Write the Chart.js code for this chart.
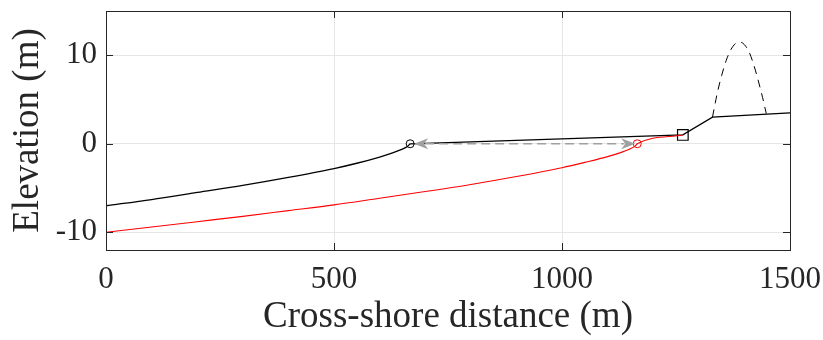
<!DOCTYPE html>
<html lang="en">
<head>
    <meta charset="UTF-8">
    <title>Cross-shore profile</title>
    <script src="https://cdn.jsdelivr.net/npm/chart.js"></script>
    <style>
        body { margin: 0; background: #ffffff; }
        .chart-box { width: 823px; height: 340px; }
    </style>
</head>
<body>
    <div class="chart-box"><canvas id="profileChart"></canvas></div>

    <script>
        // Initial profile (black), from offshore to the shoreline
        const initX = [0, 100, 200, 300, 400, 500, 550, 600, 630, 650, 660, 667];
        const initY = [-7.0, -6.3, -5.5, -4.7, -3.8, -2.8, -2.2, -1.5, -1.0, -0.6, -0.34, 0];

        // Shifted profile (red)
        const shiftX = [0, 100, 200, 300, 400, 500, 600, 700, 800, 900, 1000, 1050, 1100, 1130, 1150, 1160, 1165, 1265];
        const shiftY = [-10.0, -9.4, -8.8, -8.2, -7.55, -6.9, -6.15, -5.4, -4.6, -3.7, -2.7, -2.1, -1.45, -0.97, -0.55, -0.27, 0, 1.0];

        // Beach and back-beach (black, common to both)
        const beachX = [667, 1265, 1330, 1500];
        const beachY = [0, 1.0, 3.0, 3.5];

        // Dune crest (dashed)
        const duneX = [1330, 1340, 1350, 1360, 1370, 1380, 1390, 1400, 1410, 1420, 1430, 1440, 1448];
        const duneY = [3.0, 5.6, 7.7, 9.4, 10.6, 11.3, 11.5, 11.2, 10.4, 9.0, 7.2, 5.2, 3.4];

        // Shoreline markers and the berm point
        const shoreInit = [667, 0];
        const shoreShift = [1165, 0];
        const bermPoint = [1265, 1.0];

        const xTicks = [0, 500, 1000, 1500];
        const yTicks = [-10, 0, 10];

        const ink = '#262626';
        const serif = '"Liberation Serif", "DejaVu Serif", serif';

        const pts = (xs, ys) => xs.map((x, i) => ({ x: x, y: ys[i] }));

        // box around the axes with inward ticks on all four sides
        const boxPlugin = {
            id: 'boxPlugin',
            afterDatasetsDraw(chart) {
                const { ctx, chartArea: a, scales } = chart;
                ctx.save();
                ctx.strokeStyle = ink;
                ctx.lineWidth = 1;
                const len = 7;
                ctx.beginPath();
                xTicks.forEach(v => {
                    const px = Math.round(scales.x.getPixelForValue(v)) + 0.5;
                    ctx.moveTo(px, a.bottom); ctx.lineTo(px, a.bottom - len);
                    ctx.moveTo(px, a.top); ctx.lineTo(px, a.top + len);
                });
                yTicks.forEach(v => {
                    const py = Math.round(scales.y.getPixelForValue(v)) + 0.5;
                    ctx.moveTo(a.left, py); ctx.lineTo(a.left + len, py);
                    ctx.moveTo(a.right, py); ctx.lineTo(a.right - len, py);
                });
                ctx.stroke();
                ctx.strokeRect(Math.round(a.left) + 0.5, Math.round(a.top) + 0.5,
                    Math.round(a.right - a.left), Math.round(a.bottom - a.top));
                ctx.restore();
            }
        };

        // dashed double arrow between the two shorelines
        const arrowPlugin = {
            id: 'arrowPlugin',
            afterDatasetsDraw(chart) {
                const { ctx, scales } = chart;
                const x1 = scales.x.getPixelForValue(shoreShift[0]) - 2;
                const x0 = scales.x.getPixelForValue(shoreInit[0]) + 4;
                const y = scales.y.getPixelForValue(0);
                const head = 14, half = 5.5;
                ctx.save();
                ctx.strokeStyle = '#a0a0a0';
                ctx.fillStyle = '#a0a0a0';
                ctx.lineWidth = 1.6;
                ctx.setLineDash([9, 5]);
                ctx.beginPath();
                ctx.moveTo(x0 + head - 3, y);
                ctx.lineTo(x1 - head + 3, y);
                ctx.stroke();
                ctx.setLineDash([]);
                [[x0, 1], [x1, -1]].forEach(([tip, d]) => {
                    ctx.beginPath();
                    ctx.moveTo(tip, y);
                    ctx.lineTo(tip + d * head, y - half);
                    ctx.lineTo(tip + d * (head - 4), y);
                    ctx.lineTo(tip + d * head, y + half);
                    ctx.closePath();
                    ctx.fill();
                });
                ctx.restore();
            }
        };

        const ctx = document.getElementById('profileChart').getContext('2d');
        const profileChart = new Chart(ctx, {
            type: 'scatter',
            data: {
                datasets: [
                    {
                        data: pts(shiftX, shiftY), showLine: true, borderColor: '#ff0000',
                        borderWidth: 1.1, pointRadius: 0, cubicInterpolationMode: 'monotone'
                    },
                    {
                        data: pts(initX, initY), showLine: true, borderColor: '#000000',
                        borderWidth: 1.3, pointRadius: 0, cubicInterpolationMode: 'monotone'
                    },
                    {
                        data: pts(beachX, beachY), showLine: true, borderColor: '#000000',
                        borderWidth: 1.3, pointRadius: 0
                    },
                    {
                        data: pts(duneX, duneY), showLine: true, borderColor: '#000000',
                        borderWidth: 1, borderDash: [8, 6], pointRadius: 0,
                        cubicInterpolationMode: 'monotone'
                    },
                    {
                        data: [{ x: shoreInit[0], y: shoreInit[1] }], pointStyle: 'circle',
                        pointRadius: 4, borderColor: '#000000', borderWidth: 1, backgroundColor: 'rgba(0,0,0,0)'
                    },
                    {
                        data: [{ x: shoreShift[0], y: shoreShift[1] }], pointStyle: 'circle',
                        pointRadius: 4, borderColor: '#ff0000', borderWidth: 1, backgroundColor: 'rgba(0,0,0,0)'
                    },
                    {
                        data: [{ x: bermPoint[0], y: bermPoint[1] }], pointStyle: 'rect',
                        pointRadius: 7.5, borderColor: '#000000', borderWidth: 1.2, backgroundColor: 'rgba(0,0,0,0)'
                    }
                ]
            },
            options: {
                responsive: true,
                maintainAspectRatio: false,
                animation: false,
                layout: { padding: { top: 11, right: 33, left: 0, bottom: 0 } },
                plugins: {
                    legend: { display: false },
                    tooltip: { enabled: false }
                },
                scales: {
                    x: {
                        type: 'linear', min: 0, max: 1500,
                        afterBuildTicks: s => { s.ticks = xTicks.map(v => ({ value: v })); },
                        afterFit: s => { s.height = 90; s.paddingLeft = 0; s.paddingRight = 0; },
                        grid: { color: '#e6e6e6', drawTicks: false },
                        border: { display: false },
                        ticks: {
                            color: ink, padding: 11, font: { family: serif, size: 31 },
                            callback: v => String(v)
                        },
                        title: {
                            display: true, text: 'Cross-shore distance (m)', color: ink,
                            font: { family: serif, size: 37 }, padding: { top: 0, bottom: 1 }
                        }
                    },
                    y: {
                        type: 'linear', min: -12, max: 15,
                        afterBuildTicks: s => { s.ticks = yTicks.map(v => ({ value: v })); },
                        afterFit: s => { s.width = 106; s.paddingTop = 0; s.paddingBottom = 0; },
                        grid: { color: '#e6e6e6', drawTicks: false },
                        border: { display: false },
                        ticks: {
                            color: ink, padding: 9, font: { family: serif, size: 31 },
                            callback: v => String(v)
                        },
                        title: {
                            display: true, text: 'Elevation (m)', color: ink,
                            font: { family: serif, size: 37 }, padding: { top: 6, bottom: 0 }
                        }
                    }
                }
            },
            plugins: [boxPlugin, arrowPlugin]
        });
    </script>
</body>
</html>
